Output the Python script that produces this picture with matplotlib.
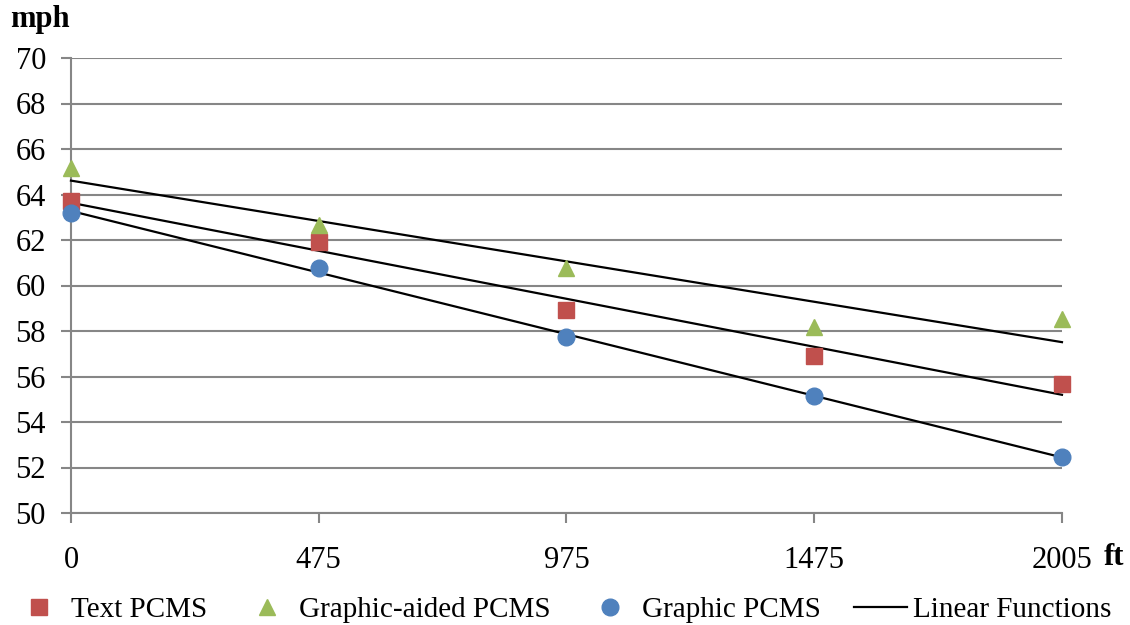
#!/usr/bin/env python3
"""
Speed vs distance for three PCMS types, with linear trendlines
"""
import numpy as np
import matplotlib
matplotlib.use('Agg')
import matplotlib.pyplot as plt
from matplotlib.lines import Line2D

plt.rcParams['font.family'] = ['Liberation Serif', 'DejaVu Serif']

distances = ['0', '475', '975', '1475', '2005']
text_pcms = [63.71, 61.90, 58.91, 56.90, 55.66]
graphic_aided_pcms = [65.15, 62.66, 60.79, 58.19, 58.51]
graphic_pcms = [63.20, 60.76, 57.72, 55.16, 52.46]

series = [
    ('Text PCMS', text_pcms, '#C0504D', 's'),
    ('Graphic-aided PCMS', graphic_aided_pcms, '#9BBB59', '^'),
    ('Graphic PCMS', graphic_pcms, '#4F81BD', 'o'),
]

fig = plt.figure(figsize=(11.3, 6.25), dpi=100)
ax = fig.add_axes([0.0628, 0.1792, 0.877, 0.728])

x = np.arange(len(distances))
grid_col = '#868686'

for name, vals, col, mk in series:
    # Excel-style linear trendline over category index
    k, b = np.polyfit(x, vals, 1)
    ax.plot(x, k * x + b, color='black', lw=1.6, zorder=3, clip_on=False)
    ax.plot(x, vals, linestyle='none', marker=mk, color=col, ms=11 if mk != 'o' else 12,
            mec=col, zorder=4, clip_on=False)

ax.set_xlim(0, 4)
ax.set_ylim(50, 70)
ax.set_yticks(np.arange(50, 71, 2))
ax.set_xticks(x)
ax.set_xticklabels(distances)
ax.yaxis.grid(True, color=grid_col, lw=1.5)
ax.set_axisbelow(True)

for s in ['top', 'right']:
    ax.spines[s].set_visible(False)
for s in ['left', 'bottom']:
    ax.spines[s].set_color(grid_col)
    ax.spines[s].set_linewidth(1.5)

ax.tick_params(axis='y', length=7, width=1.5, color=grid_col, labelsize=22, pad=11)
ax.tick_params(axis='x', length=7, width=1.5, color=grid_col, labelsize=22, pad=17)

fig.text(0.009, 0.968, 'mph', fontsize=22, fontweight='bold', va='center', ha='left')
fig.text(0.977, 0.108, 'ft', fontsize=22, fontweight='bold', va='center', ha='left')

handles = [Line2D([], [], linestyle='none', marker=mk, color=col, ms=11 if mk != 'o' else 12)
           for _, _, col, mk in series]
handles.append(Line2D([], [], color='black', lw=1.6))
labels = [s[0] for s in series] + ['Linear Functions']
fig.legend(handles, labels, loc='center', bbox_to_anchor=(0.497, 0.024), ncol=4,
           frameon=False, fontsize=21, handlelength=1.8, handletextpad=0.2,
           columnspacing=1.15, borderpad=0, borderaxespad=0)

plt.savefig('out.png', dpi=100)
